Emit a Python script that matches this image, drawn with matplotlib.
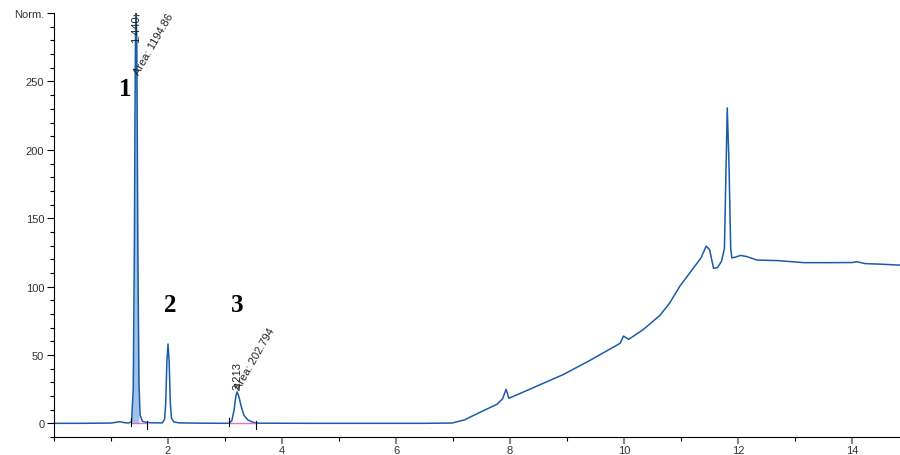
import matplotlib.pyplot as plt
from matplotlib.ticker import MultipleLocator

# chromatogram trace (time in min, signal in Norm.)
time = [0.0, 0.5, 1.0, 1.1, 1.16, 1.22, 1.30, 1.36, 1.39, 1.41, 1.42, 1.43, 1.44, 1.45, 1.46, 1.47, 1.49, 1.51,
        1.55, 1.6, 1.7, 1.9, 1.94, 1.96, 1.98, 2.0, 2.02, 2.04, 2.06, 2.1, 2.2, 2.6, 3.0, 3.08,
        3.12, 3.16, 3.19, 3.21, 3.24, 3.28, 3.33, 3.40, 3.5, 3.6, 4.5, 5.5, 6.5, 6.98, 7.2, 7.47,
        7.77, 7.87, 7.93, 7.98, 8.1, 8.35, 8.94, 9.4, 9.93, 9.99, 10.08, 10.34, 10.63, 10.8, 10.98,
        11.22, 11.35, 11.44, 11.5, 11.57, 11.64, 11.71, 11.76, 11.79, 11.81, 11.84, 11.87, 11.89,
        11.95, 12.04, 12.15, 12.33, 12.7, 13.15, 13.6, 14.0, 14.08, 14.23, 14.5, 14.84]
signal = [0.0, 0.0, 0.2, 0.8, 1.2, 0.6, 0.2, 1.0, 25, 130, 220, 285, 300, 285, 220, 130, 30, 6,
          1.5, 0.8, 0.4, 0.3, 3, 15, 45, 58, 45, 15, 4, 1, 0.3, 0.1, 0.0, 0.2,
          2, 10, 20, 23, 20, 13, 6, 2.5, 0.6, 0.1, 0.0, 0.0, 0.0, 0.2, 2.5, 8,
          13.9, 18, 24.9, 18.3, 20.5, 25, 35.8, 46, 58.5, 63.8, 61.4, 68.7, 79, 88, 100.4,
          113.8, 121, 129.6, 127, 113.3, 114, 118.6, 128, 190, 230.7, 190, 128, 121,
          121.5, 122.8, 122, 119.4, 119, 117.5, 117.5, 117.6, 118.2, 116.8, 116.4, 115.7]

peak_labels = ["1", "2", "3"]
peak_label_x = [1.245, 2.04, 3.21]
peak_label_y = [245, 87, 87]

# integration baselines (start, end)
base_start = [1.35, 3.07]
base_end = [1.63, 3.54]

rt_labels = ["1.440", "3.213"]
rt_x = [1.44, 3.213]
rt_y = [279, 25]
area_labels = ["Area: 1194.86", "Area: 202.794"]
area_x = [1.53, 3.30]
area_y = [254, 24]

line_col = "#1a5ca8"

plt.rcParams["font.family"] = ["Liberation Sans", "DejaVu Sans"]
fig = plt.figure(figsize=(9, 4.56), dpi=100)
ax = fig.add_axes([0.06, 0.0395, 0.94, 0.9295])

# shaded first peak
ax.fill_between(time[7:17], signal[7:17], color="#9fc3ea", lw=0)
ax.plot(time, signal, color=line_col, lw=1.1)
ax.plot([1.44], [299], marker="+", color="#444444", ms=5, mew=0.8)

for s, e in zip(base_start, base_end):
    ax.plot([s, e], [0, 0], color="#e070c8", lw=1.0)
    ax.plot([s, s], [-2, 4], color="black", lw=0.8)
    ax.plot([e, e], [-4, 2], color="black", lw=0.8)

for t, x, y in zip(rt_labels, rt_x, rt_y):
    ax.text(x, y, t, rotation=90, fontsize=8, ha="center", va="bottom", color="#222222")
for t, x, y in zip(area_labels, area_x, area_y):
    ax.text(x, y, t, rotation=60, fontsize=8, ha="left", va="bottom", color="#222222",
            rotation_mode="anchor")
for t, x, y in zip(peak_labels, peak_label_x, peak_label_y):
    ax.text(x, y, t, fontsize=18, fontweight="bold", family="Liberation Serif",
            ha="center", va="center")

ax.set_xlim(0, 14.84)
ax.set_ylim(-10, 300)
ax.xaxis.set_minor_locator(MultipleLocator(1))
ax.yaxis.set_minor_locator(MultipleLocator(10))
ax.set_xticks([2, 4, 6, 8, 10, 12, 14])
ax.set_xticklabels(["2", "4", "6", "8", "10", "12", "14"])
ax.set_yticks([0, 50, 100, 150, 200, 250, 300])
ax.set_yticklabels(["0", "50", "100", "150", "200", "250", "Norm."])
ax.tick_params(which="major", length=5, width=0.8, labelsize=8, labelcolor="#333333", pad=2)
ax.tick_params(which="minor", length=3, width=0.8)
ax.tick_params(axis="x", which="major", color="#888888", width=1.5, pad=1)
ax.spines["top"].set_visible(False)
ax.spines["right"].set_visible(False)
ax.text(0.992, -0.035, "min", transform=ax.transAxes, fontsize=8, color="#333333",
        ha="left", va="top")

fig.savefig("out.png", dpi=100)
